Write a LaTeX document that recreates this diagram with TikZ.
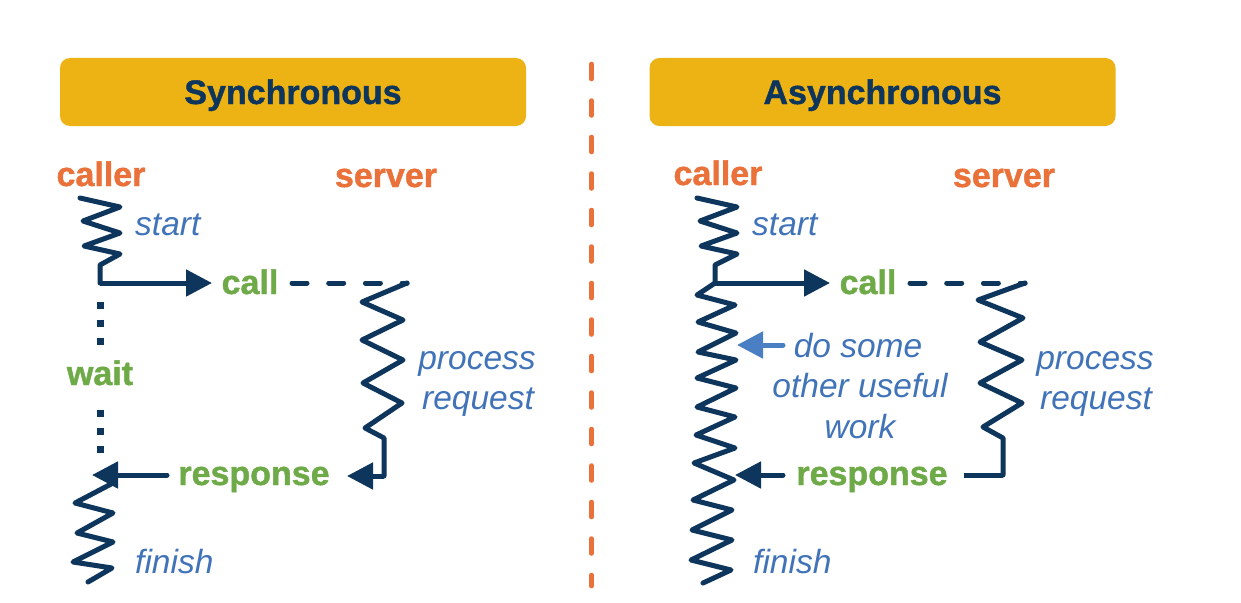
\documentclass[tikz,border=0pt]{standalone}
\usepackage{fontspec}
\setmainfont{Liberation Sans}[BoldFeatures={FakeBold=1.2}]
\usetikzlibrary{arrows.meta}
\definecolor{gold}{RGB}{237,178,19}
\definecolor{navy}{RGB}{14,53,92}
\definecolor{orng}{RGB}{234,113,57}
\definecolor{grn}{RGB}{110,170,71}
\definecolor{itblue}{RGB}{65,115,185}
\definecolor{ltblue}{RGB}{74,127,196}
\begin{document}
\begin{tikzpicture}[x=1pt,y=-1pt,
  titlebox/.style={font=\fontsize{34}{40}\selectfont\bfseries, fill=gold, text=navy, rounded corners=10pt,
    minimum width=466pt, minimum height=68pt, inner sep=0pt, text height=24pt, text depth=0pt},
  role/.style={font=\fontsize{34}{40}\selectfont\bfseries, text=orng, anchor=base, inner sep=0pt},
  msg/.style={font=\fontsize{34}{40}\selectfont\bfseries, text=grn, anchor=base, inner sep=0pt},
  note/.style={font=\fontsize{33.5}{40}\selectfont\itshape, text=itblue, anchor=base, inner sep=0pt},
  notew/.style={note, anchor=base west},
  zig/.style={draw=navy, line width=5pt, line join=round, line cap=round},
  wire/.style={draw=navy, line width=5pt, line join=miter},
  tip/.style={-{Triangle[length=26pt,width=26pt]}},
  dashwire/.style={draw=navy, line width=5pt, line cap=round, dash pattern=on 15pt off 21.7pt},
  dotwire/.style={draw=navy, line width=7pt, line cap=butt, dash pattern=on 7pt off 11pt},
  divider/.style={draw=orng, line width=4.5pt, line cap=round, dash pattern=on 15pt off 21.5pt}
]
\useasboundingbox (0,0) rectangle (1241,602);
\fill[white] (0,0) rectangle (1241,602);

% titles
\node[titlebox] (t-sync) at (293,92) {Synchronous};
\node[titlebox] (t-async) at (882.5,92) {Asynchronous};

% divider
\coordinate (d-top) at (591.5,64);
\coordinate (d-bot) at (591.5,586);
\draw[divider] (d-top) -- (d-bot);

% ================= Synchronous =================
\node[role] (s-caller) at (101,186) {caller};
\node[role] (s-server) at (386,187) {server};
\node[notew] (s-start) at (135,235) {start};
\node[msg] (s-call) at (250,294) {call};
\node[msg] (s-wait) at (100,385) {wait};
\node[msg] (s-resp) at (254,485) {response};
\node[note] (s-proc1) at (477,369) {process};
\node[note] (s-proc2) at (478,409) {request};
\node[notew] (s-finish) at (135,573) {finish};

\coordinate (s-j) at (100,283);
\coordinate (s-ca) at (212,283);
\coordinate (s-d0) at (292,283);
\coordinate (s-sv) at (407,283);
\coordinate (s-sc) at (384,476);
\coordinate (s-st) at (347,476);
\coordinate (s-ra) at (167,475);
\coordinate (s-rt) at (92,475);
\coordinate (s-w1a) at (100,301.5);
\coordinate (s-w1b) at (100,345.5);
\coordinate (s-w2a) at (100,409.5);
\coordinate (s-w2b) at (100,453.5);

\draw[zig] (80,198) -- (120,207) -- (83,221) -- (120,233) -- (84,246) -- (120,254) -- (100,265) -- (s-j);
\draw[wire, line cap=square, tip] (s-j) -- (s-ca);
\draw[dashwire] (s-d0) -- (s-sv);
\draw[zig] (s-sv) -- (362,302) -- (403,320) -- (362,340) -- (403,360) -- (363,383) -- (402,403) -- (365,428) -- (384,438) -- (s-sc);
\draw[wire, line cap=square, tip] (s-sc) -- (s-st);
\draw[wire, line cap=round, tip] (s-ra) -- (s-rt);
\draw[zig] (113,483) -- (75,503) -- (113,513) -- (77,533) -- (113,542) -- (73,562) -- (112,568) -- (88,582);
\draw[dotwire] (s-w1a) -- (s-w1b);
\draw[dotwire] (s-w2a) -- (s-w2b);

% ================= Asynchronous =================
\node[role] (a-caller) at (718,185) {caller};
\node[role] (a-server) at (1004,187) {server};
\node[notew] (a-start) at (752,235) {start};
\node[msg] (a-call) at (868,294) {call};
\node[msg] (a-resp) at (872,485) {response};
\node[note] (a-proc1) at (1095,369) {process};
\node[note] (a-proc2) at (1096,409) {request};
\node[notew] (a-finish) at (753,573) {finish};
\node[note] (a-do1) at (858,357) {do some};
\node[note] (a-do2) at (860,397) {other useful};
\node[note] (a-do3) at (860,438) {work};

\coordinate (a-j) at (715,283);
\coordinate (a-ca) at (830,283);
\coordinate (a-d0) at (910,283);
\coordinate (a-sv) at (1025,283);
\coordinate (a-sc) at (1003,475);
\coordinate (a-se) at (962,475);
\coordinate (a-ra) at (783,475);
\coordinate (a-rt) at (735,475);
\coordinate (a-oa) at (783,345);
\coordinate (a-ot) at (737,345);

\draw[zig] (697,198) -- (737,207) -- (700,221) -- (737,233) -- (701,246) -- (737,254) -- (715,265) -- (a-j);
\draw[wire, line cap=square, tip] (a-j) -- (a-ca);
\draw[zig] (a-j) -- (697,295) -- (735,305) -- (698,322) -- (736,333) -- (698,352) -- (736,360) -- (697,378) -- (736,388)
  -- (697,407) -- (735,417) -- (696,435) -- (735,448) -- (694,463) -- (734,480) -- (693,500) -- (732,510)
  -- (692,530) -- (732,540) -- (691,560) -- (731,570) -- (703,583);
\draw[dashwire] (a-d0) -- (a-sv);
\draw[zig] (a-sv) -- (978,300) -- (1023,318) -- (980,342) -- (1022,360) -- (980,383) -- (1022,403) -- (983,427) -- (1003,438) -- (a-sc);
\draw[wire, line cap=square] (a-sc) -- ([xshift=2pt]a-se);
\draw[wire, line cap=round, tip] (a-ra) -- (a-rt);
\draw[draw=ltblue, fill=ltblue, line width=5pt, line cap=round, -{Triangle[length=26pt,width=26pt]}] (a-oa) -- (a-ot);
\end{tikzpicture}
\end{document}
